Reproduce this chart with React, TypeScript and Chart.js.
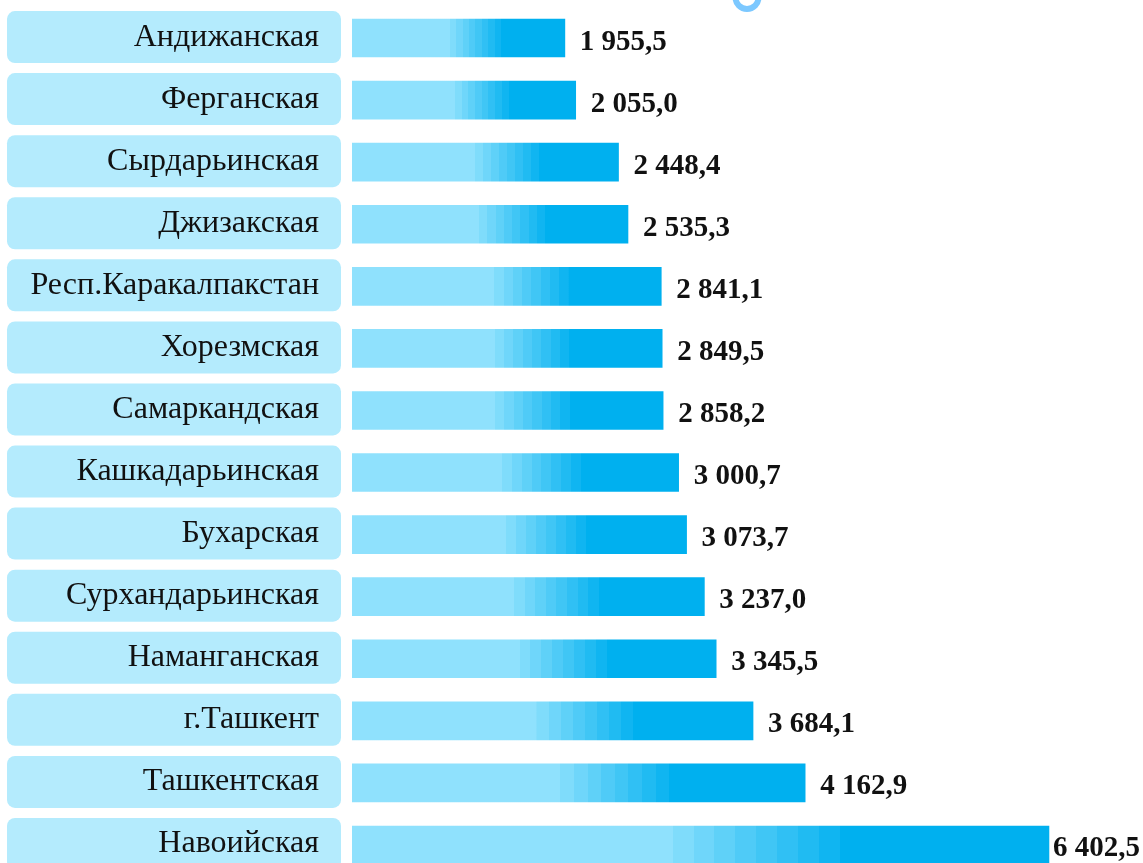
import React, { useEffect, useRef } from "react";
import { Chart, registerables } from "chart.js";

Chart.register(...registerables);

const regions: string[] = [
  "Андижанская",
  "Ферганская",
  "Сырдарьинская",
  "Джизакская",
  "Респ.Каракалпакстан",
  "Хорезмская",
  "Самаркандская",
  "Кашкадарьинская",
  "Бухарская",
  "Сурхандарьинская",
  "Наманганская",
  "г.Ташкент",
  "Ташкентская",
  "Навоийская",
];

const values: number[] = [
  1955.5, 2055.0, 2448.4, 2535.3, 2841.1, 2849.5, 2858.2, 3000.7, 3073.7, 3237.0,
  3345.5, 3684.1, 4162.9, 6402.5,
];

const X_MAX = 7000;

const LIGHT = [143, 225, 253];
const DARK = [0, 176, 239];
const BOX_COLOR = "#B4EBFD";
const RING_COLOR = "#7CC8FF";

function mix(t: number): string {
  const c = LIGHT.map((l, i) => Math.round(l + (DARK[i] - l) * t));
  return `rgb(${c[0]},${c[1]},${c[2]})`;
}

function formatValue(v: number): string {
  const [intPart, dec] = v.toFixed(1).split(".");
  const withSpaces = intPart.replace(/\B(?=(\d{3})+(?!\d))/g, " ");
  return `${withSpaces},${dec}`;
}

export default function App() {
  const canvasRef = useRef<HTMLCanvasElement | null>(null);

  useEffect(() => {
    const canvas = canvasRef.current;
    if (!canvas) return;

    const decorPlugin = {
      id: "decor",
      beforeDatasetsDraw(chart: any) {
        const ctx = chart.ctx;
        const yScale = chart.scales.y;
        ctx.save();
        // decorative ring at top (cut off)
        ctx.beginPath();
        ctx.strokeStyle = RING_COLOR;
        ctx.lineWidth = 6;
        ctx.arc(747, -2.5, 11.5, 0, Math.PI * 2);
        ctx.stroke();
        // label boxes
        regions.forEach((label, i) => {
          const cy = yScale.getPixelForValue(i);
          const top = cy - 27;
          ctx.beginPath();
          ctx.fillStyle = BOX_COLOR;
          (ctx as any).roundRect(7, top, 334, 52, 8);
          ctx.fill();
          ctx.fillStyle = "#111111";
          ctx.font = '32px "Liberation Serif", "Times New Roman", serif';
          ctx.textAlign = "right";
          ctx.textBaseline = "alphabetic";
          ctx.fillText(label, 319, cy + 7.5);
        });
        ctx.restore();
      },
      afterDatasetsDraw(chart: any) {
        const ctx = chart.ctx;
        const meta = chart.getDatasetMeta(0);
        ctx.save();
        ctx.font = 'bold 29px "Liberation Serif", "Times New Roman", serif';
        ctx.fillStyle = "#111111";
        ctx.textAlign = "left";
        ctx.textBaseline = "alphabetic";
        meta.data.forEach((bar: any, i: number) => {
          const text = formatValue(values[i]);
          const w = ctx.measureText(text).width;
          const x = Math.min(bar.x + 15, chart.width - 3 - w);
          ctx.fillText(text, x, bar.y + 11.5);
        });
        ctx.restore();
      },
    };

    const chart = new Chart(canvas, {
      type: "bar",
      data: {
        labels: regions,
        datasets: [
          {
            data: values,
            barThickness: 38,
            borderWidth: 0,
            backgroundColor: (context: any) => {
              const ch = context.chart;
              const xs = ch.scales && ch.scales.x;
              if (!xs || !ch.chartArea) return mix(0.5);
              const v = values[context.dataIndex] ?? 0;
              const x0 = xs.getPixelForValue(0);
              const x1 = xs.getPixelForValue(v);
              const g = ch.ctx.createLinearGradient(x0, 0, x1, 0);
              const start = 0.46;
              const end = 0.7;
              const steps = 8;
              g.addColorStop(0, mix(0));
              g.addColorStop(start, mix(0));
              for (let s = 0; s < steps; s++) {
                const a = start + ((end - start) * s) / steps;
                const b = start + ((end - start) * (s + 1)) / steps;
                const col = mix((s + 1) / (steps + 1));
                g.addColorStop(a + 0.0001, col);
                g.addColorStop(b, col);
              }
              g.addColorStop(Math.min(1, end + 0.0001), mix(1));
              g.addColorStop(1, mix(1));
              return g;
            },
          },
        ],
      },
      options: {
        indexAxis: "y",
        responsive: false,
        animation: false,
        layout: { padding: { left: 352, right: 29, top: 7, bottom: 0 } },
        plugins: {
          legend: { display: false },
          tooltip: { enabled: false },
          title: { display: false },
        },
        scales: {
          x: { display: false, min: 0, max: X_MAX, grid: { display: false } },
          y: { display: false, offset: true, grid: { display: false } },
        },
      },
      plugins: [decorPlugin],
    } as any);

    return () => {
      chart.destroy();
    };
  }, []);

  return (
    <div
      style={{
        position: "absolute",
        top: 0,
        left: 0,
        width: 1143,
        height: 863,
        overflow: "hidden",
        background: "#ffffff",
      }}
    >
      <canvas ref={canvasRef} width={1143} height={876} style={{ display: "block" }} />
    </div>
  );
}
